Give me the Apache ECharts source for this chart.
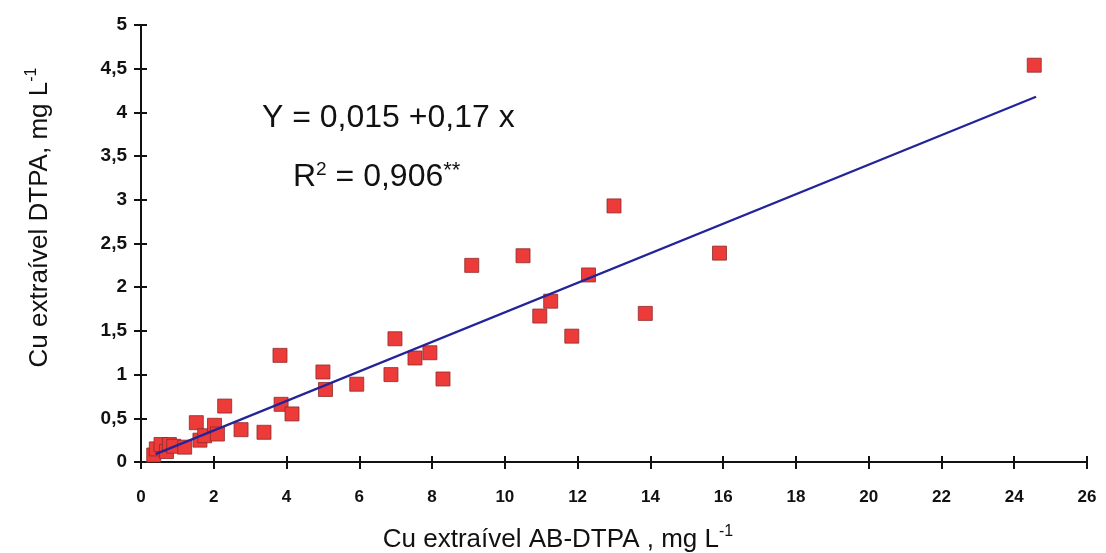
<!DOCTYPE html>
<html><head><meta charset="utf-8">
<script src="https://cdn.jsdelivr.net/npm/echarts@6/dist/echarts.min.js"></script>
<style>html,body{margin:0;padding:0;background:#fff}#c{width:1106px;height:553px}</style>
</head><body><div id="c"></div>
<script>
const xValues = [0.35,0.42,0.55,0.7,0.78,0.9,1.2,1.52,1.62,1.75,2.02,2.1,2.3,2.75,3.38,3.85,4.15,3.82,5.0,5.07,5.93,6.87,6.98,7.53,7.94,8.3,9.09,10.5,10.96,11.26,11.84,12.3,13.0,13.86,15.9,24.55];
const yValues = [0.08,0.15,0.2,0.12,0.2,0.18,0.17,0.45,0.25,0.3,0.42,0.32,0.64,0.37,0.34,0.66,0.55,1.22,1.03,0.83,0.89,1.0,1.41,1.19,1.25,0.95,2.25,2.36,1.67,1.84,1.44,2.14,2.93,1.70,2.39,4.54];
const fitX = [0.4, 24.6];
const fitY = [0.09, 4.18];
const xTicks = [0,2,4,6,8,10,12,14,16,18,20,22,24,26];
const yTicks = [0,0.5,1,1.5,2,2.5,3,3.5,4,4.5,5];

const fmt = v => String(v).replace('.', ',');
const pts = xValues.map((x,i)=>[x,yValues[i]]);
const fit = fitX.map((x,i)=>[x,fitY[i]]);
const tickLine = {color:'#111', width:2};
const axisBase = {
  type:'value', splitLine:{show:false},
  axisLine:{show:true, onZero:false, lineStyle:{color:'#111', width:2}}
};
const titleRich = {
  t:{fontFamily:'Liberation Sans, Arial', fontSize:26, color:'#111'},
  s:{fontFamily:'Liberation Sans, Arial', fontSize:16, color:'#111', verticalAlign:'top', padding:[0,0,16,0]}
};
const chart = echarts.init(document.getElementById('c'));
chart.setOption({
  animation:false,
  backgroundColor:'#fff',
  grid:{left:141, right:19, top:25, bottom:91, containLabel:false, outerBoundsMode:'none'},
  xAxis:[
    Object.assign({}, axisBase, {min:xTicks[0], max:xTicks[xTicks.length-1], interval:2,
      axisTick:{show:true, inside:false, length:7, lineStyle:tickLine},
      axisLabel:{margin:27, formatter:v=>fmt(v), fontFamily:'Liberation Sans, Arial', fontWeight:'bold', fontSize:17, color:'#111'},
      name:'{t|Cu extraível AB-DTPA , mg L}{s|-1}', nameLocation:'middle', nameGap:62,
      nameTextStyle:{rich:titleRich, padding:[0,112,0,0]}
    }),
    Object.assign({}, axisBase, {min:xTicks[0], max:xTicks[xTicks.length-1], interval:2, position:'bottom',
      axisTick:{show:true, inside:true, length:6, lineStyle:tickLine},
      axisLabel:{show:false}})
  ],
  yAxis:[
    Object.assign({}, axisBase, {min:yTicks[0], max:yTicks[yTicks.length-1], interval:0.5,
      axisTick:{show:true, inside:false, length:7, lineStyle:tickLine},
      axisLabel:{margin:14, formatter:v=>fmt(v), fontFamily:'Liberation Sans, Arial', fontWeight:'bold', fontSize:19, color:'#111'},
      name:'{t|Cu extraível DTPA, mg L}{s|-1}', nameLocation:'middle', nameGap:85, nameRotate:90,
      nameTextStyle:{rich:titleRich, padding:[0,0,0,52]}
    }),
    Object.assign({}, axisBase, {min:yTicks[0], max:yTicks[yTicks.length-1], interval:0.5, position:'left',
      axisTick:{show:true, inside:true, length:6, lineStyle:tickLine},
      axisLabel:{show:false}})
  ],
  graphic:[
    {type:'text', left:262, top:102, style:{text:'Y = 0,015 +0,17 x', font:'32px "Liberation Sans", Arial', fill:'#111'}},
    {type:'text', left:293, top:160, style:{text:'{t|R}{s|2}{t| = 0,906}{a|**}', rich:{
      t:{font:'32px "Liberation Sans", Arial', fill:'#111'},
      s:{font:'19px "Liberation Sans", Arial', fill:'#111', verticalAlign:'top', padding:[0,0,16,0]},
      a:{font:'22px "Liberation Sans", Arial', fill:'#111', verticalAlign:'top', padding:[0,0,12,0]}
    }}}
  ],
  series:[
    {type:'scatter', data:pts, symbol:'rect', symbolSize:14, z:3,
      itemStyle:{color:'#ec3b38', borderColor:'#8e2b2b', borderWidth:0.8, opacity:1}},
    {type:'line', data:fit, symbol:'none', z:4, xAxisIndex:1, yAxisIndex:1,
      lineStyle:{color:'#23239a', width:2.2}}
  ]
});
</script></body></html>
